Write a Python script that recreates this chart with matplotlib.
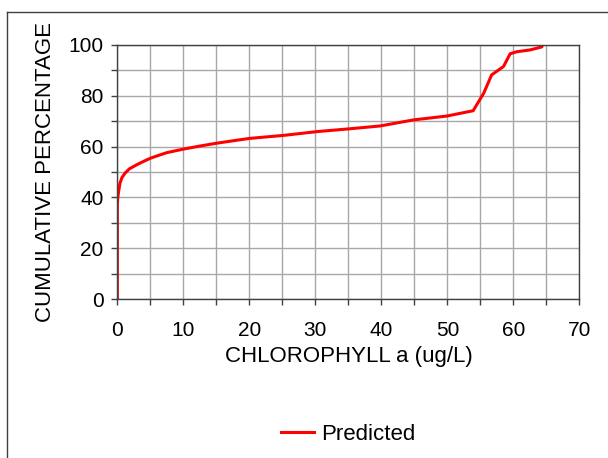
import numpy as np
import matplotlib.pyplot as plt
from matplotlib.lines import Line2D

plt.rcParams['font.family'] = ['Liberation Sans', 'DejaVu Sans']

# courbe
chl = [0.0, 0.0, 0.05, 0.2, 0.4, 0.7, 1.15, 1.8, 2.9, 4.0, 5.0, 6.2, 7.5, 10.0, 12.5,
       15.0, 17.6, 20.0, 25.2, 30.3, 34.8, 39.8, 44.9, 49.9, 53.9, 55.5, 56.7,
       58.5, 59.5, 60.5, 62.5, 64.3, 64.4]
cum_pct = [0.0, 37.0, 39.5, 42.5, 45.6, 47.8, 49.5, 51.2, 52.8, 54.2, 55.4, 56.5, 57.6,
           59.0, 60.2, 61.3, 62.3, 63.2, 64.4, 65.9, 66.9, 68.1, 70.5, 72.0, 74.1,
           81.0, 88.2, 91.5, 96.5, 97.3, 98.0, 99.2, 100.0]

fig = plt.figure(figsize=(6.08, 4.58), dpi=100)
ax = fig.add_axes([0.193, 0.347, 0.760, 0.555])

ax.plot(chl, cum_pct, color='#ff0000', lw=2.2, label='Predicted')

ax.set_xlim(0, 70)
ax.set_ylim(0, 100)
ax.set_xticks(np.arange(0, 71, 10))
ax.set_xticks(np.arange(0, 71, 5), minor=True)
ax.set_yticks(np.arange(0, 101, 20))
ax.set_yticks(np.arange(0, 101, 10), minor=True)
ax.grid(True, which='both', color='#a8a8a8', lw=1)
ax.set_axisbelow(True)
ax.tick_params(which='both', direction='out', length=4, width=1, color='#404040',
               labelsize=15)
ax.tick_params(axis='x', pad=12)
ax.tick_params(axis='y', pad=6)
for s in ax.spines.values():
    s.set_color('#404040')
    s.set_linewidth(1)

ax.set_xlabel('CHLOROPHYLL a (ug/L)', fontsize=16, va='center')
ax.xaxis.set_label_coords(0.5, -0.226)
ax.set_ylabel('CUMULATIVE PERCENTAGE', fontsize=16, va='center')
ax.yaxis.set_label_coords(-0.155, 0.5)

fig.legend(loc='center', bbox_to_anchor=(348 / 608, 1 - 434 / 458), frameon=False,
           fontsize=16, handlelength=1.5, handletextpad=0.3)

# cadre autour du graphique
fig.add_artist(Line2D([7 / 608, 7 / 608], [0, 1 - 12 / 458], color='#404040', lw=1))
fig.add_artist(Line2D([7 / 608, 1], [1 - 12 / 458, 1 - 12 / 458], color='#404040', lw=1))

fig.savefig('out.png', dpi=100)
